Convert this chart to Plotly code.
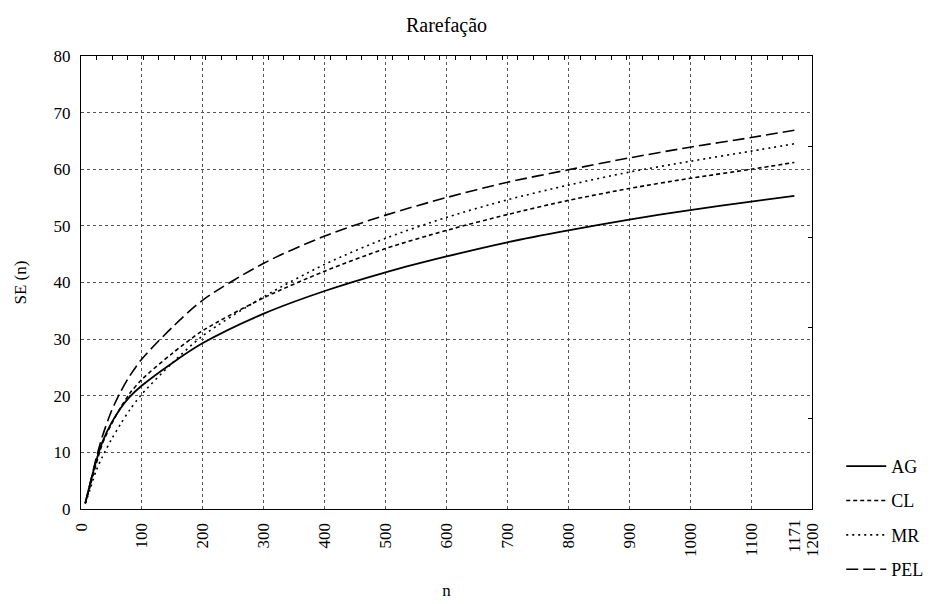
import plotly.graph_objects as go

n_vals = [7, 15, 25, 35, 50, 65, 80, 100, 150, 200, 300, 400, 500, 600, 700, 800, 900, 1000, 1100, 1171]
ag = [1, 4.5, 8.5, 11.8, 15.2, 17.8, 19.8, 21.8, 25.8, 29.3, 34.5, 38.5, 41.8, 44.6, 47.1, 49.2, 51.1, 52.8, 54.3, 55.3]
cl = [1, 4.0, 8.0, 11.5, 15.0, 17.9, 20.4, 22.9, 27.5, 31.5, 37.3, 42.0, 46.0, 49.2, 52.0, 54.5, 56.6, 58.4, 60.0, 61.2]
mr = [1, 3.5, 6.8, 9.2, 12.3, 15.0, 17.5, 20.3, 25.8, 30.6, 37.5, 43.2, 47.8, 51.5, 54.6, 57.2, 59.5, 61.4, 63.2, 64.5]
pel = [1, 4.5, 9.0, 12.8, 17.3, 20.7, 23.5, 26.5, 32.1, 36.9, 43.4, 48.2, 51.9, 55.0, 57.7, 59.9, 62.0, 63.9, 65.6, 66.9]

series_names = ["AG", "CL", "MR", "PEL"]
x_ticks = [0, 100, 200, 300, 400, 500, 600, 700, 800, 900, 1000, 1100, 1200]
extra_tick = [1171]
y_ticks = [0, 10, 20, 30, 40, 50, 60, 70, 80]

FONT = "Liberation Serif"
styles = [
    dict(dash="solid", width=1.8),
    dict(dash="4px,3px", width=1.6),
    dict(dash="2px,4px", width=1.6),
    dict(dash="12px,5px", width=1.6),
]

fig = go.Figure()
for i, (name, vals) in enumerate(zip(series_names, [ag, cl, mr, pel])):
    fig.add_trace(go.Scatter(
        x=n_vals, y=vals, mode="lines", name=name,
        line=dict(color="black", shape="spline", smoothing=0.8, **styles[i]),
        legendgroup=name,
    ))

# invisible helper traces for extra axes
fig.add_trace(go.Scatter(x=[0, 1200], y=[0, 80], xaxis="x2", yaxis="y2",
                         mode="markers", marker=dict(opacity=0), showlegend=False, hoverinfo="skip"))
fig.add_trace(go.Scatter(x=[0, 1200], y=[0, 80], xaxis="x3", yaxis="y",
                         mode="markers", marker=dict(opacity=0), showlegend=False, hoverinfo="skip"))

fig.update_layout(
    width=944, height=604,
    margin=dict(l=81, r=132, t=56, b=95),
    paper_bgcolor="white", plot_bgcolor="white",
    font=dict(family=FONT, color="black", size=17),
    title=dict(text="Rarefação", x=(81 + 812) / 2 / 944, xanchor="center",
               y=1 - 25 / 604, yanchor="middle", font=dict(size=20, family=FONT)),
    showlegend=True,
    legend=dict(x=1.04, xanchor="left", y=0.135, yanchor="top",
                font=dict(size=18, family=FONT), tracegroupgap=8,
                traceorder="grouped", itemwidth=40, bgcolor="rgba(0,0,0,0)"),
    xaxis=dict(range=[0, 1200], tickvals=x_ticks, ticktext=[str(v) for v in x_ticks],
               tickangle=-90, showgrid=True, gridcolor="#555", griddash="dot", gridwidth=1,
               showline=True, linecolor="black", linewidth=1.2, mirror=True,
               ticks="", zeroline=False, ticklabelstandoff=6, automargin=False,
               title=dict(text="n", standoff=28, font=dict(size=17))),
    xaxis2=dict(range=[0, 1200], overlaying="x", side="top", anchor="y2",
                tickvals=[25.6 * k for k in range(1, 47)], ticks="inside", ticklen=4,
                tickcolor="black", showticklabels=False, showgrid=False, zeroline=False,
                showline=False, automargin=False),
    xaxis3=dict(range=[0, 1200], overlaying="x", side="bottom", anchor="y",
                tickvals=extra_tick, ticktext=[str(v) for v in extra_tick],
                tickangle=-90, ticks="", showgrid=False, zeroline=False,
                showline=False, ticklabelstandoff=6, tickfont=dict(size=17),
                automargin=False),
    yaxis=dict(range=[0, 80], tickvals=y_ticks, showgrid=True, gridcolor="#555",
               griddash="dot", gridwidth=1, showline=True, linecolor="black",
               linewidth=1.2, mirror=True, ticks="", zeroline=False,
               ticklabelstandoff=6, automargin=False,
               title=dict(text="SE (n)", standoff=22, font=dict(size=17))),
    yaxis2=dict(range=[0, 80], overlaying="y", side="right", anchor="x2",
                tickvals=[16, 32, 48, 64], ticks="inside", ticklen=4, tickcolor="black",
                showticklabels=False, showgrid=False, zeroline=False, showline=False,
                automargin=False),
)

fig.write_html("out.html")
